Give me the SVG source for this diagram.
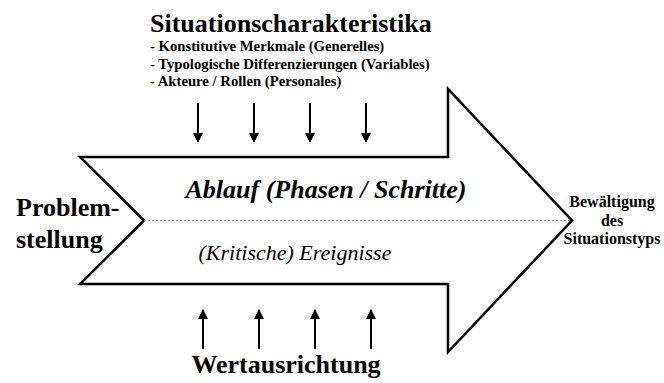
<svg xmlns="http://www.w3.org/2000/svg" width="664" height="383" viewBox="0 0 664 383">
<style>
.t{font-family:"Liberation Serif","Times New Roman",serif;fill:#000}
.b{font-weight:bold}
.i{font-style:italic}
.conn{stroke:#000;stroke-width:2;fill:none}
</style>
<defs>
<marker id="ah" viewBox="0 0 10 10" refX="9" refY="5" markerWidth="5" markerHeight="5" orient="auto" markerUnits="strokeWidth">
<path d="M0,0 L10,5 L0,10 Z" fill="#000"/>
</marker>
</defs>
<rect width="664" height="383" fill="#fff"/>
<g id="big-arrow">
<polygon points="80,157 448,157 448,89 572,220.5 448,352 448,284 80,284 144,220.5" fill="#fff" stroke="#000" stroke-width="2.5" stroke-linejoin="miter"/>
<line x1="144" y1="220.5" x2="572" y2="220.5" stroke="#999" stroke-width="1" stroke-dasharray="2,2"/>
<text class="t b i" x="326" y="198" font-size="26" text-anchor="middle">Ablauf (Phasen / Schritte)</text>
<text class="t i" x="295" y="260" font-size="22" text-anchor="middle">(Kritische) Ereignisse</text>
</g>
<g id="situationscharakteristika">
<text class="t b" x="150" y="32" font-size="26">Situationscharakteristika</text>
<text class="t b" x="150" y="51" font-size="14.7">- Konstitutive Merkmale (Generelles)</text>
<text class="t b" x="150" y="68.5" font-size="14.7">- Typologische Differenzierungen (Variables)</text>
<text class="t b" x="150" y="86" font-size="14.7">- Akteure / Rollen (Personales)</text>
</g>
<g id="problemstellung">
<text class="t b" x="16" y="216" font-size="26">Problem-</text>
<text class="t b" x="16" y="248" font-size="26">stellung</text>
</g>
<g id="bewaeltigung">
<text class="t b" x="612" y="207" font-size="16" text-anchor="middle">Bewältigung</text>
<text class="t b" x="612" y="225.5" font-size="16" text-anchor="middle">des</text>
<text class="t b" x="612" y="244" font-size="16" text-anchor="middle">Situationstyps</text>
</g>
<g id="wertausrichtung">
<text class="t b" x="286" y="373" font-size="26" text-anchor="middle">Wertausrichtung</text>
</g>
<g id="connectors">
<line class="conn" x1="198" y1="103" x2="198" y2="142" marker-end="url(#ah)"/>
<line class="conn" x1="254" y1="103" x2="254" y2="142" marker-end="url(#ah)"/>
<line class="conn" x1="310" y1="103" x2="310" y2="142" marker-end="url(#ah)"/>
<line class="conn" x1="366" y1="103" x2="366" y2="142" marker-end="url(#ah)"/>
<line class="conn" x1="203" y1="349" x2="203" y2="310" marker-end="url(#ah)"/>
<line class="conn" x1="259" y1="349" x2="259" y2="310" marker-end="url(#ah)"/>
<line class="conn" x1="315" y1="349" x2="315" y2="310" marker-end="url(#ah)"/>
<line class="conn" x1="371" y1="349" x2="371" y2="310" marker-end="url(#ah)"/>
</g>
</svg>
